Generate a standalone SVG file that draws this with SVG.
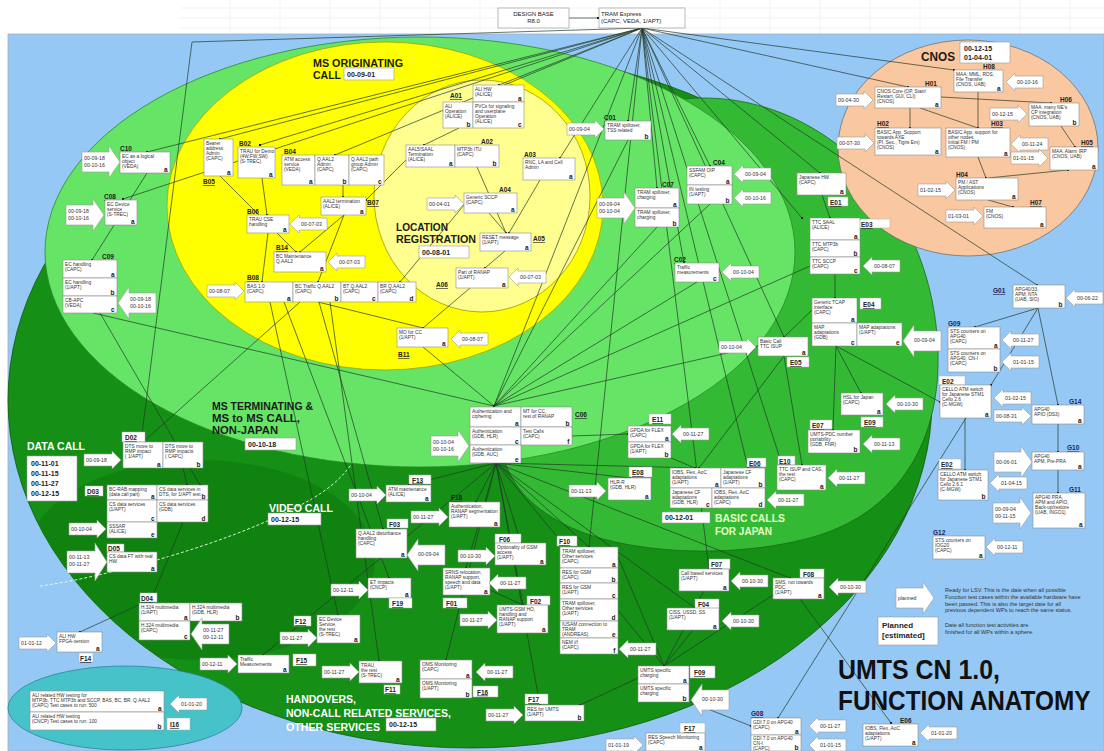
<svg xmlns="http://www.w3.org/2000/svg" xmlns:xlink="http://www.w3.org/1999/xlink" width="1104" height="751" viewBox="0 0 1104 751">
<style>
text{font-family:'Liberation Sans',Arial,sans-serif}
.bx{fill:#fff;stroke:#8a8a8a;stroke-width:0.6}
.lbx{fill:#fff;stroke:#aaa;stroke-width:0.5}
.t{font-size:4.8px;fill:#333}
.k{font-size:6.5px;font-weight:bold;fill:#222;text-anchor:end}
.id{font-size:6.5px;font-weight:bold;fill:#222;text-decoration:underline}
.gid{font-size:6.5px;font-weight:bold;fill:#1a2456;text-decoration:underline}
.d{font-size:5.2px;fill:#333}
.ar{fill:#fff;stroke:#9a9a9a;stroke-width:0.6}
.cn{fill:none;stroke:#223a2a;stroke-width:0.7;marker-end:url(#dot)}
.rl{font-size:11.5px;font-weight:bold;fill:#1a1a1a}
.wl{font-size:11.5px;font-weight:bold;fill:#fff}
.db{fill:#fff;stroke:#999;stroke-width:0.6}
.dt{font-size:7px;font-weight:bold;fill:#222}
.grid{stroke:#ebebeb;stroke-width:0.6}
</style>
<defs>
<marker id="dot" viewBox="0 0 4 4" refX="2" refY="2" markerWidth="2.6" markerHeight="2.6" markerUnits="userSpaceOnUse"><circle cx="2" cy="2" r="2" fill="#111"/></marker>
<clipPath id="bigclip"><ellipse cx="470" cy="400" rx="462" ry="348"/></clipPath>
<path id="ar" class="ar" d="M0,0h28v-3l9,9l-9,9v-3h-28z"/>
<path id="al" class="ar" d="M37,0h-28v-3l-9,9l9,9v-3h28z"/>
<path id="ar2" class="ar" d="M0,0h27v-6l11,16l-11,16v-6h-27z"/>
<path id="al2" class="ar" d="M38,0h-27v-6l-11,16l11,16v-6h27z"/>
<path id="ar3" class="ar" d="M0,0h28v-8l12,19l-12,19v-8h-28z"/>
</defs>

<rect x="0" y="0" width="1104" height="751" fill="#fff"/>
<g id="grid">
<line class="grid" x1="180" y1="8" x2="1104" y2="8"/><line class="grid" x1="180" y1="18" x2="1104" y2="18"/><line class="grid" x1="180" y1="28" x2="1104" y2="28"/>
<line class="grid" x1="230" y1="0" x2="230" y2="34"/><line class="grid" x1="280" y1="0" x2="280" y2="34"/><line class="grid" x1="330" y1="0" x2="330" y2="34"/><line class="grid" x1="380" y1="0" x2="380" y2="34"/><line class="grid" x1="430" y1="0" x2="430" y2="34"/><line class="grid" x1="480" y1="0" x2="480" y2="34"/><line class="grid" x1="720" y1="0" x2="720" y2="34"/><line class="grid" x1="770" y1="0" x2="770" y2="34"/><line class="grid" x1="820" y1="0" x2="820" y2="34"/><line class="grid" x1="870" y1="0" x2="870" y2="34"/><line class="grid" x1="920" y1="0" x2="920" y2="34"/><line class="grid" x1="970" y1="0" x2="970" y2="34"/><line class="grid" x1="1020" y1="0" x2="1020" y2="34"/><line class="grid" x1="1070" y1="0" x2="1070" y2="34"/>
</g>
<rect x="8" y="34" width="1096" height="717" fill="#96c8f5" stroke="#aab" stroke-width="0.8"/>

<g id="spheres">
<ellipse cx="470" cy="400" rx="462" ry="348" fill="#168f16" stroke="#0b5a0b" stroke-width="0.8"/>
<ellipse cx="200" cy="560" rx="175" ry="100" fill="#108210" clip-path="url(#bigclip)"/>
<path d="M560,300 C560,160 620,100 700,98 C800,96 905,170 932,300 C952,400 925,500 820,535 C740,560 620,556 560,522 C520,500 500,470 500,430 Z" fill="#34b934" stroke="#1a6a1a" stroke-width="0.8"/>
<path d="M40,586 C100,578 230,545 310,500 C380,460 380,400 300,380" fill="none" stroke="#e8ffe8" stroke-width="0.9" stroke-dasharray="3,2"/>
<ellipse cx="420" cy="252" rx="375" ry="215" fill="#66e466" stroke="#2a8a2a" stroke-width="0.8"/>
<ellipse cx="385" cy="206" rx="218" ry="164" fill="#ffff00" stroke="#a09a00" stroke-width="0.7"/>
<ellipse cx="482" cy="196" rx="108" ry="116" fill="#ffff90" stroke="#7a7000" stroke-width="0.6"/>
<ellipse cx="968" cy="148" rx="130" ry="108" fill="#fac8a0" stroke="#666" stroke-width="0.7"/>
<ellipse cx="125" cy="708" rx="117" ry="42" fill="#46c3c8" stroke="#2a7a8a" stroke-width="0.7"/>
</g>

<g id="connectors">
<path class="cn" d="M569,18 L598,18"/>
<path class="cn" d="M642,28 L147,152"/>
<path class="cn" d="M642,28 L220,139"/>
<path class="cn" d="M642,28 L260,145"/>
<path class="cn" d="M642,28 L335,155"/>
<path class="cn" d="M642,28 L499,85"/>
<path class="cn" d="M642,28 L560,158"/>
<path class="cn" d="M642,28 L628,121"/>
<path class="cn" d="M642,28 L657,188"/>
<path class="cn" d="M642,28 L710,166"/>
<path class="cn" d="M642,28 L820,173"/>
<path class="cn" d="M642,28 L908,87"/>
<path class="cn" d="M642,28 L954,70"/>
<path class="cn" d="M642,28 L1037,285"/>
<path class="cn" d="M642,28 L684,263"/>
<path class="cn" d="M642,28 L494,406"/>
<path class="cn" d="M642,28 L802,218"/>
<path class="cn" d="M642,28 L709,569"/>
<path class="cn" d="M642,28 L748,468"/>
<path class="cn" d="M642,28 L782,465"/>
<path class="cn" d="M642,28 L589,547"/>
<path class="cn" d="M642,28 L123,199"/>
<path class="cn" d="M642,28 L784,337"/>
<path class="cn" d="M642,28 L192,42 L141,442"/>
<path class="cn" d="M459,128 L424,145"/>
<path class="cn" d="M477,167 L506,233"/>
<path class="cn" d="M489,213 L506,233"/>
<path class="cn" d="M540,180 L509,233"/>
<path class="cn" d="M505,251 L485,268"/>
<path class="cn" d="M470,288 L423,328"/>
<path class="cn" d="M406,160 L366,200"/>
<path class="cn" d="M464,205 L400,282"/>
<path class="cn" d="M343,185 L343,197"/>
<path class="cn" d="M262,178 L267,215"/>
<path class="cn" d="M220,176 L296,252"/>
<path class="cn" d="M268,233 L262,282"/>
<path class="cn" d="M344,215 L300,252"/>
<path class="cn" d="M344,215 L318,282"/>
<path class="cn" d="M318,302 L423,328"/>
<path class="cn" d="M284,302 L389,578"/>
<path class="cn" d="M319,302 L383,529"/>
<path class="cn" d="M270,302 L338,615"/>
<path class="cn" d="M330,302 L379,661"/>
<path class="cn" d="M300,302 L143,442"/>
<path class="cn" d="M423,347 L494,406"/>
<path class="cn" d="M93,313 L494,406"/>
<path class="cn" d="M100,313 L200,485"/>
<path class="cn" d="M147,173 L92,260"/>
<path class="cn" d="M657,227 L494,406"/>
<path class="cn" d="M710,204 L494,406"/>
<path class="cn" d="M628,140 L494,406"/>
<path class="cn" d="M697,282 L494,406"/>
<path class="cn" d="M758,346 L494,406"/>
<path class="cn" d="M810,266 L494,406"/>
<path class="cn" d="M572,436 L628,434"/>
<path class="cn" d="M496,463 L476,502"/>
<path class="cn" d="M496,463 L521,543"/>
<path class="cn" d="M496,463 L466,568"/>
<path class="cn" d="M496,463 L523,605"/>
<path class="cn" d="M496,463 L589,547"/>
<path class="cn" d="M496,463 L790,578"/>
<path class="cn" d="M496,463 L695,608"/>
<path class="cn" d="M496,463 L664,666"/>
<path class="cn" d="M496,463 L630,478"/>
<path class="cn" d="M496,463 L446,660"/>
<path class="cn" d="M496,463 L540,705"/>
<path class="cn" d="M496,463 L409,485"/>
<path class="cn" d="M496,463 L699,468"/>
<path class="cn" d="M496,463 L263,655"/>
<path class="cn" d="M671,458 L695,468"/>
<path class="cn" d="M822,195 L830,218"/>
<path class="cn" d="M835,274 L835,298"/>
<path class="cn" d="M812,310 L784,337"/>
<path class="cn" d="M836,346 L861,393"/>
<path class="cn" d="M836,346 L833,430"/>
<path class="cn" d="M836,346 L940,402"/>
<path class="cn" d="M784,356 L802,465"/>
<path class="cn" d="M784,356 L699,468"/>
<path class="cn" d="M1038,308 L975,327"/>
<path class="cn" d="M1038,308 L991,385"/>
<path class="cn" d="M1038,308 L1058,405"/>
<path class="cn" d="M1058,424 L1058,452"/>
<path class="cn" d="M1058,470 L1058,493"/>
<path class="cn" d="M965,418 L965,470"/>
<path class="cn" d="M966,418 L778,718"/>
<path class="cn" d="M800,599 L891,723"/>
<path class="cn" d="M690,702 L751,726"/>
<path class="cn" d="M183,468 L187,485"/>
<path class="cn" d="M183,522 L150,603"/>
<path class="cn" d="M143,603 L80,632"/>
<path class="cn" d="M490,590 L523,605"/>
<path class="cn" d="M618,557 L664,666"/>
<path class="cn" d="M704,591 L664,666"/>
<path class="cn" d="M693,630 L664,666"/>
<path class="cn" d="M773,595 L664,666"/>
<path class="cn" d="M664,666 L580,705"/>
<path class="cn" d="M910,108 L910,128"/>
<path class="cn" d="M920,108 L978,128"/>
<path class="cn" d="M978,92 L978,128"/>
<path class="cn" d="M941,97 L1051,103"/>
<path class="cn" d="M1061,126 L1075,147"/>
<path class="cn" d="M978,157 L986,178"/>
<path class="cn" d="M988,178 L1068,170"/>
<path class="cn" d="M988,200 L1013,207"/>
</g>

<g id="top">
<rect class="bx" x="498" y="8" width="71" height="20"/>
<text x="533.5" y="16" font-size="6" fill="#222" text-anchor="middle">DESIGN BASE<tspan x="533.5" dy="7">R8.0</tspan></text>
<rect class="bx" x="599" y="8" width="86" height="20"/>
<text x="601" y="16" font-size="6" fill="#222">TRAM Express<tspan x="601" dy="7">(CAPC, VEDA, 1/APT)</tspan></text>
</g>

<g id="labels">
<text class="rl" x="313" y="67" textLength="90" lengthAdjust="spacingAndGlyphs">MS ORIGINATING</text>
<text class="rl" x="313" y="79" textLength="28" lengthAdjust="spacingAndGlyphs">CALL</text>
<rect class="db" x="344" y="68" width="50" height="12"/><text class="dt" x="347" y="76.5">00-09-01</text>
<text class="rl" x="396" y="231" textLength="52" lengthAdjust="spacingAndGlyphs">LOCATION</text>
<text class="rl" x="396" y="243" textLength="80" lengthAdjust="spacingAndGlyphs">REGISTRATION</text>
<rect class="db" x="419" y="246" width="50" height="12"/><text class="dt" x="422" y="254.5">00-08-01</text>
<text class="rl" x="212" y="410" textLength="101" lengthAdjust="spacingAndGlyphs">MS TERMINATING &amp;</text>
<text class="rl" x="212" y="422" textLength="88" lengthAdjust="spacingAndGlyphs">MS to MS CALL,</text>
<text class="rl" x="212" y="434" textLength="66" lengthAdjust="spacingAndGlyphs">NON-JAPAN</text>
<rect class="db" x="245" y="438" width="51" height="12"/><text class="dt" x="248" y="446.5">00-10-18</text>
<text class="wl" x="27" y="450" textLength="58" lengthAdjust="spacingAndGlyphs">DATA CALL</text>
<rect class="db" x="27" y="456" width="50" height="45"/>
<text class="dt" x="31" y="466">00-11-01<tspan x="31" dy="10">00-11-15</tspan><tspan x="31" dy="10">00-11-27</tspan><tspan x="31" dy="10">00-12-15</tspan></text>
<text class="wl" x="269" y="512" textLength="64" lengthAdjust="spacingAndGlyphs">VIDEO CALL</text>
<rect class="db" x="268" y="513" width="53" height="12"/><text class="dt" x="271" y="521.5">00-12-15</text>
<text class="wl" x="286" y="703" textLength="70" lengthAdjust="spacingAndGlyphs">HANDOVERS,</text>
<text class="wl" x="286" y="717" textLength="165" lengthAdjust="spacingAndGlyphs">NON-CALL RELATED SERVICES,</text>
<text class="wl" x="286" y="731" textLength="94" lengthAdjust="spacingAndGlyphs">OTHER SERVICES</text>
<rect class="db" x="386" y="718" width="50" height="13"/><text class="dt" x="389" y="727">00-12-15</text>
<text x="715" y="522" font-size="11.5" font-weight="bold" fill="#e6ffc8" textLength="70" lengthAdjust="spacingAndGlyphs">BASIC CALLS</text>
<text x="715" y="535" font-size="11.5" font-weight="bold" fill="#e6ffc8" textLength="57" lengthAdjust="spacingAndGlyphs">FOR JAPAN</text>
<rect class="db" x="662" y="512" width="48" height="11"/><text class="dt" x="665" y="520">00-12-01</text>
<text x="921" y="61" font-size="13" font-weight="bold" fill="#1a1a1a" textLength="34" lengthAdjust="spacingAndGlyphs">CNOS</text>
<rect class="db" x="960" y="42" width="50" height="21"/>
<text class="dt" x="964" y="51">00-12-15<tspan x="964" dy="9">01-04-01</tspan></text>
</g>

<g id="A01">
<text class="id" x="450" y="98">A01</text>
<rect class="bx" x="473" y="85" width="51" height="17"/><text class="t" x="475" y="90.5">ALI HW<tspan x="475" dy="5.3">(ALICE)</tspan></text><text class="k" x="521.5" y="100.5">a</text>
<rect class="bx" x="443" y="102" width="30" height="26"/><text class="t" x="445" y="107.5">ALI<tspan x="445" dy="5.3">Operation</tspan><tspan x="445" dy="5.3">(ALICE)</tspan></text><text class="k" x="470.5" y="126.5">b</text>
<rect class="bx" x="473" y="102" width="51" height="26"/><text class="t" x="475" y="107.5">PVCs for signaling<tspan x="475" dy="5.3">and userplane</tspan><tspan x="475" dy="5.3">Operation</tspan><tspan x="475" dy="5.3">(ALICE)</tspan></text><text class="k" x="521.5" y="126.5">c</text>
</g>
<g id="A02">
<text class="id" x="481" y="144">A02</text>
<rect class="bx" x="406" y="145" width="49" height="22"/><text class="t" x="408" y="150.5">AAL5/SAAL<tspan x="408" dy="5.3">Termination</tspan><tspan x="408" dy="5.3">(ALICE)</tspan></text><text class="k" x="452.5" y="165.5">a</text>
<rect class="bx" x="455" y="145" width="44" height="22"/><text class="t" x="457" y="150.5">MTP3b ITU<tspan x="457" dy="5.3">(CAPC)</tspan></text><text class="k" x="496.5" y="165.5">b</text>
</g>
<g id="A03">
<text class="id" x="524" y="157">A03</text>
<rect class="bx" x="523" y="158" width="52" height="22"/><text class="t" x="525" y="163.5">RNC, LA and Cell<tspan x="525" dy="5.3">Admin</tspan></text><text class="k" x="572.5" y="178.5">a</text>
</g>
<g id="A04">
<text class="id" x="499" y="192">A04</text>
<rect class="bx" x="464" y="193" width="53" height="20"/><text class="t" x="466" y="198.5">Generic SCCP<tspan x="466" dy="5.3">(CAPC)</tspan></text><text class="k" x="514.5" y="211.5">a</text>
<use href="#ar" x="427" y="198"/><text class="d" x="429" y="206">00-04-01</text>
</g>
<g id="A05">
<text class="id" x="533" y="241">A05</text>
<rect class="bx" x="480" y="233" width="51" height="18"/><text class="t" x="482" y="238.5">RESET message<tspan x="482" dy="5.3">(1/APT)</tspan></text><text class="k" x="528.5" y="249.5">a</text>
</g>
<g id="A06">
<text class="id" x="436" y="287">A06</text>
<rect class="bx" x="456" y="268" width="52" height="20"/><text class="t" x="458" y="273.5">Part of RANAP<tspan x="458" dy="5.3">(1/APT)</tspan></text><text class="k" x="505.5" y="286.5">a</text>
<use href="#al" x="509" y="271"/><text class="d" x="520" y="279">00-07-03</text>
</g>

<g id="B05">
<rect class="bx" x="204" y="139" width="29" height="37"/><text class="t" x="206" y="144.5">Bearer<tspan x="206" dy="5.3">address</tspan><tspan x="206" dy="5.3">Admin</tspan><tspan x="206" dy="5.3">(CAPC)</tspan></text><text class="k" x="230.5" y="174.5">a</text>
<text class="id" x="203" y="184">B05</text>
</g>
<g id="B02">
<text class="id" x="239" y="146">B02</text>
<rect class="bx" x="238" y="147" width="37" height="31"/><text class="t" x="240" y="152.5">TRAU for Demo<tspan x="240" dy="5.3">(4W,FW,SW)</tspan><tspan x="240" dy="5.3">(S-TREC)</tspan></text><text class="k" x="272.5" y="176.5">a</text>
</g>
<g id="B04">
<text class="id" x="284" y="154">B04</text>
<rect class="bx" x="282" y="155" width="33" height="30"/><text class="t" x="284" y="160.5">ATM access<tspan x="284" dy="5.3">service</tspan><tspan x="284" dy="5.3">(VEDA)</tspan></text><text class="k" x="312.5" y="183.5">a</text>
<rect class="bx" x="315" y="155" width="34" height="30"/><text class="t" x="317" y="160.5">Q.AAL2<tspan x="317" dy="5.3">Admin</tspan><tspan x="317" dy="5.3">(CAPC)</tspan></text><text class="k" x="346.5" y="183.5">b</text>
<rect class="bx" x="349" y="155" width="35" height="30"/><text class="t" x="351" y="160.5">Q.AAL2 path<tspan x="351" dy="5.3">group Admin</tspan><tspan x="351" dy="5.3">(CAPC)</tspan></text><text class="k" x="381.5" y="183.5">c</text>
</g>
<g id="B07">
<rect class="bx" x="321" y="197" width="45" height="18"/><text class="t" x="323" y="202.5">AAL2 termination<tspan x="323" dy="5.3">(ALICE)</tspan></text><text class="k" x="363.5" y="213.5">a</text>
<text class="id" x="367" y="205">B07</text>
</g>
<g id="B06">
<text class="id" x="247" y="214">B06</text>
<rect class="bx" x="247" y="215" width="42" height="18"/><text class="t" x="249" y="220.5">TRAU CSE<tspan x="249" dy="5.3">handling</tspan></text><text class="k" x="286.5" y="231.5">a</text>
<use href="#al" x="290" y="218"/><text class="d" x="301" y="226">00-07-03</text>
</g>
<g id="B14">
<text class="id" x="276" y="250">B14</text>
<rect class="bx" x="274" y="252" width="52" height="20"/><text class="t" x="276" y="257.5">BC Maintenance<tspan x="276" dy="5.3">Q.AAL2</tspan></text><text class="k" x="323.5" y="270.5">a</text>
<use href="#al" x="328" y="256"/><text class="d" x="339" y="264">00-07-03</text>
</g>
<g id="B08">
<text class="id" x="247" y="280">B08</text>
<rect class="bx" x="245" y="282" width="48" height="20"/><text class="t" x="247" y="287.5">BAS 1.0<tspan x="247" dy="5.3">(CAPC)</tspan></text><text class="k" x="290.5" y="300.5">a</text>
<rect class="bx" x="293" y="282" width="48" height="20"/><text class="t" x="295" y="287.5">BC Traffic  Q.AAL2<tspan x="295" dy="5.3">(CAPC)</tspan></text><text class="k" x="338.5" y="300.5">b</text>
<rect class="bx" x="341" y="282" width="37" height="20"/><text class="t" x="343" y="287.5">BT Q.AAL2<tspan x="343" dy="5.3">(CAPC)</tspan></text><text class="k" x="375.5" y="300.5">c</text>
<rect class="bx" x="378" y="282" width="38" height="20"/><text class="t" x="380" y="287.5">BR Q.AAL2<tspan x="380" dy="5.3">(CAPC)</tspan></text><text class="k" x="413.5" y="300.5">d</text>
<use href="#ar" x="207" y="285"/><text class="d" x="209" y="293">00-08-07</text>
</g>
<g id="B11">
<rect class="bx" x="397" y="328" width="51" height="19"/><text class="t" x="399" y="333.5">MO for CC<tspan x="399" dy="5.3">(1/APT)</tspan></text><text class="k" x="445.5" y="345.5">a</text>
<text class="id" x="398" y="357">B11</text>
<use href="#al" x="451" y="333"/><text class="d" x="462" y="341">00-08-07</text>
</g>

<g id="C10">
<text class="id" x="120" y="151">C10</text>
<rect class="bx" x="120" y="152" width="50" height="21"/><text class="t" x="122" y="157.5">EC as a logical<tspan x="122" dy="5.3">object</tspan><tspan x="122" dy="5.3">(VEDA)</tspan></text><text class="k" x="167.5" y="171.5">a</text>
<use href="#ar2" x="82" y="152"/><text class="d" x="84" y="160">00-09-18<tspan x="84" dy="6.5">00-10-16</tspan></text>
</g>
<g id="C08">
<text class="id" x="104" y="199">C08</text>
<rect class="bx" x="105" y="200" width="32" height="25"/><text class="t" x="107" y="205.5">EC Device<tspan x="107" dy="5.3">service</tspan><tspan x="107" dy="5.3">(S-TREC)</tspan></text><text class="k" x="134.5" y="223.5">a</text>
<use href="#ar2" x="66" y="205"/><text class="d" x="68" y="213">00-09-18<tspan x="68" dy="6.5">00-10-16</tspan></text>
</g>
<g id="C09">
<text class="id" x="102" y="259">C09</text>
<rect class="bx" x="63" y="260" width="54" height="18"/><text class="t" x="65" y="265.5">EC handling<tspan x="65" dy="5.3">(CAPC)</tspan></text><text class="k" x="114.5" y="276.5">a</text>
<rect class="bx" x="63" y="278" width="54" height="18"/><text class="t" x="65" y="283.5">EC handling<tspan x="65" dy="5.3">(1/APT)</tspan></text><text class="k" x="114.5" y="294.5">b</text>
<rect class="bx" x="63" y="296" width="54" height="17"/><text class="t" x="65" y="301.5">CB-APC<tspan x="65" dy="5.3">(VEDA)</tspan></text><text class="k" x="114.5" y="311.5">c</text>
<use href="#al2" x="118" y="293"/><text class="d" x="130" y="301">00-09-18<tspan x="130" dy="6.5">00-10-16</tspan></text>
</g>
<g id="C01">
<text class="id" x="604" y="120">C01</text>
<rect class="bx" x="605" y="121" width="46" height="19"/><text class="t" x="607" y="126.5">TRAM spillover,<tspan x="607" dy="5.3">TSS related</tspan></text><text class="k" x="648.5" y="138.5">b</text>
<use href="#ar" x="567" y="123"/><text class="d" x="569" y="131">00-09-04</text>
</g>
<g id="C04">
<text class="id" x="713" y="165">C04</text>
<rect class="bx" x="687" y="166" width="45" height="19"/><text class="t" x="689" y="171.5">SSFAM OIP<tspan x="689" dy="5.3">(CAPC)</tspan></text><text class="k" x="729.5" y="183.5">a</text>
<rect class="bx" x="687" y="185" width="45" height="19"/><text class="t" x="689" y="190.5">IN testing<tspan x="689" dy="5.3">(1/APT)</tspan></text><text class="k" x="729.5" y="202.5">b</text>
<use href="#al" x="734" y="168"/><text class="d" x="745" y="176">00-09-04</text>
<use href="#al" x="734" y="192"/><text class="d" x="745" y="200">00-10-16</text>
</g>
<g id="C07">
<text class="id" x="662" y="187">C07</text>
<rect class="bx" x="635" y="188" width="44" height="20"/><text class="t" x="637" y="193.5">TRAM spillover,<tspan x="637" dy="5.3">charging</tspan></text><text class="k" x="676.5" y="206.5">a</text>
<rect class="bx" x="635" y="208" width="44" height="19"/><text class="t" x="637" y="213.5">TRAM spillover,<tspan x="637" dy="5.3">charging</tspan></text><text class="k" x="676.5" y="225.5">b</text>
<use href="#ar2" x="597" y="198"/><text class="d" x="599" y="206">00-09-04<tspan x="599" dy="6.5">00-10-04</tspan></text>
</g>
<g id="C02">
<text class="id" x="674" y="262">C02</text>
<rect class="bx" x="675" y="263" width="44" height="19"/><text class="t" x="677" y="268.5">Traffic<tspan x="677" dy="5.3">measurements</tspan></text><text class="k" x="716.5" y="280.5">c</text>
<use href="#al" x="722" y="266"/><text class="d" x="733" y="274">00-10-04</text>
</g>
<g id="C06">
<rect class="bx" x="470" y="407" width="51" height="20"/><text class="t" x="472" y="412.5">Authentication and<tspan x="472" dy="5.3">ciphering</tspan></text><text class="k" x="518.5" y="425.5">a</text>
<rect class="bx" x="470" y="427" width="51" height="18"/><text class="t" x="472" y="432.5">Authentication<tspan x="472" dy="5.3">(GDB, HLR)</tspan></text><text class="k" x="518.5" y="443.5">c</text>
<rect class="bx" x="470" y="445" width="51" height="18"/><text class="t" x="472" y="450.5">Authentication<tspan x="472" dy="5.3">(GDB, AUC)</tspan></text><text class="k" x="518.5" y="461.5">e</text>
<rect class="bx" x="521" y="407" width="51" height="20"/><text class="t" x="523" y="412.5">MT for CC,<tspan x="523" dy="5.3">rest of RANAP</tspan></text><text class="k" x="569.5" y="425.5">b</text>
<rect class="bx" x="521" y="427" width="51" height="18"/><text class="t" x="523" y="432.5">Test Calls<tspan x="523" dy="5.3">(CAPC)</tspan></text><text class="k" x="569.5" y="443.5">f</text>
<text class="id" x="575" y="417">C06</text>
<use href="#ar2" x="431" y="436"/><text class="d" x="433" y="444">00-10-04<tspan x="433" dy="6.5">00-10-16</tspan></text>
</g>

<g id="D02">
<rect class="lbx" x="122" y="432" width="23" height="10"/><text class="id" x="125" y="440">D02</text>
<rect class="bx" x="123" y="442" width="40" height="26"/><text class="t" x="125" y="447.5">DTS move to<tspan x="125" dy="5.3">RMP impact</tspan><tspan x="125" dy="5.3">( 1/APT)</tspan></text><text class="k" x="160.5" y="466.5">a</text>
<rect class="bx" x="163" y="442" width="40" height="26"/><text class="t" x="165" y="447.5">DTS move to<tspan x="165" dy="5.3">RMP impacts</tspan><tspan x="165" dy="5.3">( CAPC)</tspan></text><text class="k" x="200.5" y="466.5">b</text>
<use href="#ar" x="84" y="454"/><text class="d" x="86" y="462">00-09-18</text>
</g>
<g id="D03">
<rect class="lbx" x="85" y="486" width="18" height="10"/><text class="id" x="87" y="494">D03</text>
<rect class="bx" x="107" y="485" width="50" height="15"/><text class="t" x="109" y="490.5">BC-RAB mapping<tspan x="109" dy="5.3">(data call part)</tspan></text><text class="k" x="154.5" y="498.8">a</text>
<rect class="bx" x="157" y="485" width="51" height="15"/><text class="t" x="159" y="490.5">CS data services in<tspan x="159" dy="5.3">DTS, for 1/APT test</tspan></text><text class="k" x="205.5" y="498.8">b</text>
<rect class="bx" x="107" y="500" width="50" height="22"/><text class="t" x="109" y="505.5">CS data services<tspan x="109" dy="5.3">(1/APT)</tspan></text><text class="k" x="154.5" y="520.5">c</text>
<rect class="bx" x="157" y="500" width="51" height="22"/><text class="t" x="159" y="505.5">CS data services<tspan x="159" dy="5.3">(GDB)</tspan></text><text class="k" x="205.5" y="520.5">d</text>
<rect class="bx" x="107" y="522" width="50" height="16"/><text class="t" x="109" y="527.5">SSSAR<tspan x="109" dy="5.3">(ALICE)</tspan></text><text class="k" x="154.5" y="536.5">e</text>
<use href="#ar" x="69" y="523"/><text class="d" x="71" y="531">00-10-04</text>
</g>
<g id="D05">
<rect class="lbx" x="107" y="544" width="17" height="8"/><text class="id" x="108" y="551">D05</text>
<rect class="bx" x="107" y="552" width="50" height="20"/><text class="t" x="109" y="557.5">CS data FT with real<tspan x="109" dy="5.3">HW</tspan></text><text class="k" x="154.5" y="570.5">a</text>
<use href="#ar3" x="67" y="551"/><text class="d" x="69" y="559">00-11-13<tspan x="69" dy="6.5">00-11-27</tspan></text>
</g>
<g id="D04">
<rect class="lbx" x="140" y="593" width="17" height="9"/><text class="id" x="141" y="601">D04</text>
<rect class="bx" x="139" y="603" width="51" height="18"/><text class="t" x="141" y="608.5">H.324 multimedia<tspan x="141" dy="5.3">(1/APT)</tspan></text><text class="k" x="187.5" y="619.5">a</text>
<rect class="bx" x="190" y="603" width="52" height="18"/><text class="t" x="192" y="608.5">H.324 multimedia<tspan x="192" dy="5.3">(GDB, HLR)</tspan></text><text class="k" x="239.5" y="619.5">b</text>
<rect class="bx" x="139" y="621" width="51" height="19"/><text class="t" x="141" y="626.5">H.324 multimedia<tspan x="141" dy="5.3">(CAPC)</tspan></text><text class="k" x="187.5" y="638.5">c</text>
<use href="#al2" x="191" y="624"/><text class="d" x="203" y="632">00-11-27<tspan x="203" dy="6.5">00-12-11</tspan></text>
</g>
<g id="F14">
<rect class="bx" x="57" y="632" width="45" height="20"/><text class="t" x="59" y="637.5">ALI HW<tspan x="59" dy="5.3">FPGA-version</tspan></text><text class="k" x="99.5" y="650.5">a</text>
<rect class="lbx" x="79" y="653" width="14" height="9"/><text class="id" x="80" y="661">F14</text>
<use href="#ar" x="19" y="637"/><text class="d" x="21" y="645">01-01-12</text>
</g>
<g id="I16">
<rect class="bx" x="30" y="691" width="134" height="21"/><text class="t" x="32" y="696.5">ALI related HW testing for<tspan x="32" dy="5.3">MTP3b, TTC MTP3b and SCCP, BAS, BC, BR, Q.AAL2</tspan><tspan x="32" dy="5.3">(CAPC) Test cases to run: 500</tspan></text><text class="k" x="161.5" y="710.5">a</text>
<rect class="bx" x="30" y="712" width="134" height="18"/><text class="t" x="32" y="717.5">ALI related HW testing<tspan x="32" dy="5.3">(CNCP) Test cases to run: 100</tspan></text><text class="k" x="161.5" y="728.5">b</text>
<rect class="lbx" x="167" y="718" width="23" height="12"/><text class="id" x="170" y="727">I16</text>
<use href="#al" x="170" y="698"/><text class="d" x="181" y="706">01-01-20</text>
</g>
<g id="F15">
<rect class="bx" x="238" y="655" width="51" height="18"/><text class="t" x="240" y="660.5">Traffic<tspan x="240" dy="5.3">Measurements</tspan></text><text class="k" x="286.5" y="671.5">a</text>
<rect class="lbx" x="293" y="654" width="23" height="12"/><text class="id" x="296" y="663">F15</text>
<use href="#ar" x="200" y="658"/><text class="d" x="202" y="666">00-12-11</text>
</g>

<g id="F13">
<rect class="lbx" x="409" y="475" width="22" height="9"/><text class="id" x="412" y="482.5">F13</text>
<rect class="bx" x="386" y="485" width="45" height="17"/><text class="t" x="388" y="490.5">ATM maintenance<tspan x="388" dy="5.3">(ALICE)</tspan></text><text class="k" x="428.5" y="500.5">a</text>
<use href="#ar" x="349" y="489"/><text class="d" x="351" y="497">00-10-04</text>
</g>
<g id="F18">
<text class="id" x="451" y="500">F18</text>
<rect class="bx" x="449" y="502" width="51" height="25"/><text class="t" x="451" y="507.5">Authentication,<tspan x="451" dy="5.3">RANAP segmentation</tspan><tspan x="451" dy="5.3">(1/APT)</tspan></text><text class="k" x="497.5" y="525.5">a</text>
<use href="#ar" x="411" y="511"/><text class="d" x="413" y="519">00-11-27</text>
</g>
<g id="F03">
<rect class="lbx" x="387" y="519" width="21" height="9"/><text class="id" x="389" y="527">F03</text>
<rect class="bx" x="356" y="529" width="51" height="29"/><text class="t" x="358" y="534.5">Q.AAL2 disturbance<tspan x="358" dy="5.3">handling</tspan><tspan x="358" dy="5.3">(CAPC)</tspan></text><text class="k" x="404.5" y="556.5">a</text>
<use href="#al2" x="407" y="545"/><text class="d" x="418" y="556">00-09-04</text>
</g>
<g id="F06">
<rect class="lbx" x="495" y="534" width="26" height="9"/><text class="id" x="499" y="542">F06</text>
<rect class="bx" x="495" y="543" width="51" height="22"/><text class="t" x="497" y="548.5">Optionality of GSM<tspan x="497" dy="5.3">access</tspan><tspan x="497" dy="5.3">(1/APT)</tspan></text><text class="k" x="543.5" y="563.5">a</text>
<use href="#ar" x="458" y="550"/><text class="d" x="460" y="558">00-10-30</text>
</g>
<g id="F19">
<rect class="bx" x="368" y="578" width="43" height="20"/><text class="t" x="370" y="583.5">ET impacts<tspan x="370" dy="5.3">(CNCP)</tspan></text><text class="k" x="408.5" y="596.5">a</text>
<rect class="lbx" x="389" y="598" width="23" height="10"/><text class="id" x="392" y="606">F19</text>
<use href="#ar" x="331" y="584"/><text class="d" x="333" y="592">00-12-11</text>
</g>
<g id="F01">
<rect class="bx" x="443" y="568" width="47" height="27"/><text class="t" x="445" y="573.5">SRNS relocation,<tspan x="445" dy="5.3">RANAP support,</tspan><tspan x="445" dy="5.3">speech and data</tspan><tspan x="445" dy="5.3">(1/APT)</tspan></text><text class="k" x="487.5" y="593.5">a</text>
<rect class="lbx" x="443" y="598" width="24" height="10"/><text class="id" x="446" y="606">F01</text>
<use href="#al" x="489" y="577"/><text class="d" x="500" y="585">00-11-27</text>
</g>
<g id="F02">
<rect class="lbx" x="527" y="596" width="23" height="9"/><text class="id" x="530" y="604">F02</text>
<rect class="bx" x="497" y="605" width="51" height="28"/><text class="t" x="499" y="610.5">UMTS-GSM HO,<tspan x="499" dy="5.3">handling and</tspan><tspan x="499" dy="5.3">RANAP support</tspan><tspan x="499" dy="5.3">(1/APT)</tspan></text><text class="k" x="545.5" y="631.5">a</text>
<use href="#ar" x="460" y="614"/><text class="d" x="462" y="622">00-11-27</text>
</g>
<g id="F12">
<rect class="lbx" x="294" y="616" width="17" height="10"/><text class="id" x="295" y="624">F12</text>
<rect class="bx" x="317" y="615" width="43" height="28"/><text class="t" x="319" y="620.5">EC Device<tspan x="319" dy="5.3">Service,</tspan><tspan x="319" dy="5.3">the rest</tspan><tspan x="319" dy="5.3">(S-TREC)</tspan></text><text class="k" x="357.5" y="641.5">a</text>
<use href="#ar" x="280" y="632"/><text class="d" x="282" y="640">00-11-27</text>
</g>
<g id="F11">
<rect class="bx" x="359" y="661" width="43" height="22"/><text class="t" x="361" y="666.5">TRAU,<tspan x="361" dy="5.3">the rest</tspan><tspan x="361" dy="5.3">(S-TREC)</tspan></text><text class="k" x="399.5" y="681.5">a</text>
<rect class="lbx" x="384" y="685" width="16" height="9"/><text class="id" x="385" y="692">F11</text>
<use href="#ar" x="322" y="666"/><text class="d" x="324" y="674">00-11-27</text>
</g>
<g id="F16">
<rect class="bx" x="420" y="660" width="52" height="19"/><text class="t" x="422" y="665.5">OMS Monitoring<tspan x="422" dy="5.3">(CAPC)</tspan></text><text class="k" x="469.5" y="677.5">a</text>
<rect class="bx" x="420" y="679" width="52" height="19"/><text class="t" x="422" y="684.5">OMS Monitoring<tspan x="422" dy="5.3">(1/APT)</tspan></text><text class="k" x="469.5" y="696.5">b</text>
<rect class="lbx" x="473" y="686" width="25" height="11"/><text class="id" x="477" y="694.5">F16</text>
<use href="#al" x="476" y="666"/><text class="d" x="487" y="674">00-11-27</text>
</g>
<g id="F17">
<rect class="lbx" x="525" y="694" width="23" height="10"/><text class="id" x="528" y="702">F17</text>
<rect class="bx" x="525" y="705" width="59" height="16"/><text class="t" x="527" y="710.5">RES for UMTS<tspan x="527" dy="5.3">(1/APT)</tspan></text><text class="k" x="581.5" y="719.5">b</text>
<use href="#ar" x="486" y="709"/><text class="d" x="488" y="717">00-11-27</text>
</g>
<g id="F10">
<rect class="lbx" x="557" y="536" width="20" height="10"/><text class="id" x="559" y="544">F10</text>
<rect class="bx" x="560" y="547" width="58" height="21"/><text class="t" x="562" y="552.5">TRAM spillover,<tspan x="562" dy="5.3">Other services</tspan><tspan x="562" dy="5.3">(CAPC)</tspan></text><text class="k" x="615.5" y="566.5">a</text>
<rect class="bx" x="560" y="568" width="58" height="15"/><text class="t" x="562" y="573.5">RES for GSM<tspan x="562" dy="5.3">(CAPC)</tspan></text><text class="k" x="615.5" y="581.5">b</text>
<rect class="bx" x="560" y="583" width="58" height="16"/><text class="t" x="562" y="588.5">RES for GSM<tspan x="562" dy="5.3">(1/APT)</tspan></text><text class="k" x="615.5" y="597.5">c</text>
<rect class="bx" x="560" y="599" width="58" height="22"/><text class="t" x="562" y="604.5">TRAM spillover,<tspan x="562" dy="5.3">Other services</tspan><tspan x="562" dy="5.3">(1/APT)</tspan></text><text class="k" x="615.5" y="619.5">d</text>
<rect class="bx" x="560" y="621" width="58" height="17"/><text class="t" x="562" y="626">IUSAM connection to<tspan x="562" dy="5">TRAM</tspan><tspan x="562" dy="5">(ANDREAS)</tspan></text><text class="k" x="615.5" y="636.5">e</text>
<rect class="bx" x="560" y="638" width="58" height="16"/><text class="t" x="562" y="643.5">NEM i/f<tspan x="562" dy="5.3">(CAPC)</tspan></text><text class="k" x="615.5" y="652.5">f</text>
<use href="#al" x="619" y="643"/><text class="d" x="630" y="651">00-11-27</text>
</g>
<g id="F07">
<rect class="lbx" x="709" y="559" width="21" height="10"/><text class="id" x="711" y="567">F07</text>
<rect class="bx" x="679" y="569" width="50" height="22"/><text class="t" x="681" y="574.5">Call based services<tspan x="681" dy="5.3">(1/APT)</tspan></text><text class="k" x="726.5" y="589.5">a</text>
<use href="#al" x="731" y="575"/><text class="d" x="742" y="583">00-10-30</text>
</g>
<g id="F08">
<rect class="lbx" x="800" y="569" width="24" height="9"/><text class="id" x="803" y="577">F08</text>
<rect class="bx" x="773" y="578" width="51" height="21"/><text class="t" x="775" y="583.5">SMS, not towards<tspan x="775" dy="5.3">PDC</tspan><tspan x="775" dy="5.3">(1/APT)</tspan></text><text class="k" x="821.5" y="597.5">a</text>
<use href="#al" x="829" y="581"/><text class="d" x="840" y="589">00-10-30</text>
</g>
<g id="F04">
<rect class="lbx" x="695" y="599" width="24" height="10"/><text class="id" x="698" y="607">F04</text>
<rect class="bx" x="667" y="608" width="52" height="22"/><text class="t" x="669" y="613.5">CISS, USSD, SS<tspan x="669" dy="5.3">(1/APT)</tspan></text><text class="k" x="716.5" y="628.5">a</text>
<use href="#al" x="722" y="615"/><text class="d" x="733" y="623">00-10-30</text>
</g>
<g id="F09">
<rect class="bx" x="638" y="666" width="51" height="18"/><text class="t" x="640" y="671.5">UMTS specific<tspan x="640" dy="5.3">charging</tspan></text><text class="k" x="686.5" y="682.5">a</text>
<rect class="bx" x="638" y="684" width="51" height="18"/><text class="t" x="640" y="689.5">UMTS specific<tspan x="640" dy="5.3">charging</tspan></text><text class="k" x="686.5" y="700.5">b</text>
<rect class="lbx" x="690" y="666" width="25" height="12"/><text class="id" x="694" y="675">F09</text>
<use href="#al2" x="691" y="690"/><text class="d" x="702" y="701">00-10-30</text>
</g>
<g id="G08">
<text class="gid" x="751" y="716">G08</text>
<rect class="bx" x="751" y="718" width="50" height="17"/><text class="t" x="753" y="723.5">GDI 7.0 on APG40<tspan x="753" dy="5.3">(CAPC)</tspan></text><text class="k" x="798.5" y="733.5">a</text>
<rect class="bx" x="751" y="735" width="50" height="16"/><text class="t" x="753" y="740">GDI 7.0 on APG40<tspan x="753" dy="5">CN-I</tspan><tspan x="753" dy="5">(CAPC)</tspan></text><text class="k" x="798.5" y="749.5">b</text>
<use href="#al" x="809" y="720"/><text class="d" x="820" y="728">00-11-27</text>
<use href="#al" x="809" y="739"/><text class="d" x="820" y="747">01-01-15</text>
</g>
<g id="F17b">
<rect class="lbx" x="680" y="723" width="25" height="10"/><text class="id" x="684" y="731">F17</text>
<rect class="bx" x="646" y="733" width="59" height="18"/><text class="t" x="648" y="738.5">RES Speech Monitoring<tspan x="648" dy="5.3">(CAPC)</tspan></text><text class="k" x="702.5" y="749.5">a</text>
<use href="#ar" x="606" y="739"/><text class="d" x="608" y="747">01-01-19</text>
</g>

<g id="E05">
<rect class="bx" x="758" y="337" width="50" height="19"/><text class="t" x="760" y="342.5">Basic Call<tspan x="760" dy="5.3">TTC ISUP</tspan></text><text class="k" x="805.5" y="354.5">a</text>
<rect class="lbx" x="787" y="357" width="22" height="10"/><text class="id" x="790" y="365">E05</text>
<use href="#ar" x="719" y="341"/><text class="d" x="721" y="349">00-10-04</text>
</g>
<g id="E11">
<rect class="lbx" x="649" y="414" width="22" height="10"/><text class="id" x="652" y="422">E11</text>
<rect class="bx" x="628" y="426" width="43" height="16"/><text class="t" x="630" y="431.5">GPDA for FLEX<tspan x="630" dy="5.3">(CAPC)</tspan></text><text class="k" x="668.5" y="440.5">a</text>
<rect class="bx" x="628" y="442" width="43" height="16"/><text class="t" x="630" y="447.5">GPDA for FLEX<tspan x="630" dy="5.3">(1/APT)</tspan></text><text class="k" x="668.5" y="456.5">b</text>
<use href="#al" x="672" y="428"/><text class="d" x="683" y="436">00-11-27</text>
</g>
<g id="E08">
<rect class="lbx" x="629" y="467" width="23" height="10"/><text class="id" x="632" y="475">E08</text>
<rect class="bx" x="608" y="478" width="43" height="22"/><text class="t" x="610" y="483.5">HLR-R<tspan x="610" dy="5.3">(GDB, HLR)</tspan></text><text class="k" x="648.5" y="498.5">a</text>
<use href="#ar" x="569" y="485"/><text class="d" x="571" y="493">00-11-13</text>
</g>
<g id="E06">
<rect class="lbx" x="747" y="458" width="19" height="9"/><text class="id" x="749" y="465.5">E06</text>
<rect class="bx" x="670" y="468" width="51" height="20"/><text class="t" x="672" y="473.5">IOBS, Flex, AoC<tspan x="672" dy="5.3">adaptations</tspan><tspan x="672" dy="5.3">(1/APT)</tspan></text><text class="k" x="718.5" y="486.5">a</text>
<rect class="bx" x="721" y="468" width="44" height="20"/><text class="t" x="723" y="473.5">Japanese CF<tspan x="723" dy="5.3">adaptations</tspan><tspan x="723" dy="5.3">(1/APT)</tspan></text><text class="k" x="762.5" y="486.5">b</text>
<rect class="bx" x="670" y="488" width="42" height="20"/><text class="t" x="672" y="493.5">Japanese CF<tspan x="672" dy="5.3">adaptations</tspan><tspan x="672" dy="5.3">(GDB, HLR)</tspan></text><text class="k" x="709.5" y="506.5">c</text>
<rect class="bx" x="712" y="488" width="53" height="20"/><text class="t" x="714" y="493.5">IOBS, Flex, AoC<tspan x="714" dy="5.3">adaptations</tspan><tspan x="714" dy="5.3">(CAPC)</tspan></text><text class="k" x="762.5" y="506.5">d</text>
<use href="#al" x="767" y="494"/><text class="d" x="778" y="502">00-11-27</text>
</g>
<g id="E10">
<rect class="lbx" x="778" y="456" width="17" height="9"/><text class="id" x="779" y="463.5">E10</text>
<rect class="bx" x="777" y="465" width="49" height="25"/><text class="t" x="779" y="470.5">TTC ISUP and CAS,<tspan x="779" dy="5.3">the rest</tspan><tspan x="779" dy="5.3">(CAPC)</tspan></text><text class="k" x="823.5" y="488.5">a</text>
<use href="#al" x="828" y="472"/><text class="d" x="839" y="480">00-11-27</text>
</g>
<g id="E07">
<rect class="lbx" x="810" y="420" width="22" height="9"/><text class="id" x="812" y="428">E07</text>
<rect class="bx" x="808" y="430" width="52" height="23"/><text class="t" x="810" y="435.5">UMTS-PDC number<tspan x="810" dy="5.3">portability</tspan><tspan x="810" dy="5.3">(GDB, FNR)</tspan></text><text class="k" x="857.5" y="451.5">b</text>
<use href="#al" x="863" y="438"/><text class="d" x="874" y="446">00-11-13</text>
</g>
<g id="E09">
<rect class="bx" x="841" y="393" width="42" height="22"/><text class="t" x="843" y="398.5">HSL for Japan<tspan x="843" dy="5.3">(CAPC)</tspan></text><text class="k" x="880.5" y="413.5">a</text>
<rect class="lbx" x="861" y="417" width="22" height="10"/><text class="id" x="864" y="425">E09</text>
<use href="#al" x="886" y="398"/><text class="d" x="897" y="406">00-10-30</text>
</g>
<g id="E04">
<rect class="lbx" x="860" y="298" width="21" height="11"/><text class="id" x="863" y="307">E04</text>
<rect class="bx" x="812" y="298" width="45" height="25"/><text class="t" x="814" y="303.5">Generic TCAP<tspan x="814" dy="5.3">interface</tspan><tspan x="814" dy="5.3">(CAPC)</tspan></text><text class="k" x="854.5" y="321.5">a</text>
<rect class="bx" x="812" y="323" width="45" height="23"/><text class="t" x="814" y="328.5">MAP<tspan x="814" dy="5.3">adaptations</tspan><tspan x="814" dy="5.3">(GDB)</tspan></text><text class="k" x="854.5" y="344.5">c</text>
<rect class="bx" x="857" y="323" width="45" height="23"/><text class="t" x="859" y="328.5">MAP adaptations<tspan x="859" dy="5.3">(1/APT)</tspan></text><text class="k" x="899.5" y="344.5">e</text>
<use href="#al2" x="903" y="331"/><text class="d" x="914" y="342">00-09-04</text>
</g>
<g id="E03">
<rect class="lbx" x="858" y="219" width="32" height="9"/><text class="id" x="861" y="227">E03</text>
<rect class="bx" x="810" y="218" width="50" height="22"/><text class="t" x="812" y="223.5">TTC SAAL<tspan x="812" dy="5.3">(ALICE)</tspan></text><text class="k" x="857.5" y="238.5">a</text>
<rect class="bx" x="810" y="240" width="50" height="17"/><text class="t" x="812" y="245.5">TTC MTP3b<tspan x="812" dy="5.3">(CAPC)</tspan></text><text class="k" x="857.5" y="255.5">b</text>
<rect class="bx" x="810" y="257" width="50" height="17"/><text class="t" x="812" y="262.5">TTC SCCP<tspan x="812" dy="5.3">(CAPC)</tspan></text><text class="k" x="857.5" y="272.5">c</text>
<use href="#al" x="863" y="260"/><text class="d" x="874" y="268">00-08-07</text>
</g>
<g id="E01">
<rect class="bx" x="797" y="173" width="49" height="22"/><text class="t" x="799" y="178.5">Japanese HW<tspan x="799" dy="5.3">(CAPC)</tspan></text><text class="k" x="843.5" y="193.5">a</text>
<rect class="lbx" x="828" y="197" width="20" height="9"/><text class="id" x="830" y="205">E01</text>
</g>
<g id="G01">
<text class="gid" x="993" y="293">G01</text>
<rect class="bx" x="1013" y="285" width="52" height="23"/><text class="t" x="1015" y="290.5">APG40/33,<tspan x="1015" dy="5.3">APM,  NTA</tspan><tspan x="1015" dy="5.3">(UAB, SIO)</tspan></text><text class="k" x="1062.5" y="306.5">b</text>
<use href="#al" x="1066" y="292"/><text class="d" x="1077" y="300">00-06-22</text>
</g>
<g id="G09">
<text class="gid" x="948" y="326">G09</text>
<rect class="bx" x="948" y="327" width="52" height="22"/><text class="t" x="950" y="332.5">STS counters on<tspan x="950" dy="5.3">APG40</tspan><tspan x="950" dy="5.3">(CAPC)</tspan></text><text class="k" x="997.5" y="347.5">a</text>
<rect class="bx" x="948" y="349" width="52" height="23"/><text class="t" x="950" y="354.5">STS counters on<tspan x="950" dy="5.3">APG40, CN-I</tspan><tspan x="950" dy="5.3">(CAPC)</tspan></text><text class="k" x="997.5" y="370.5">b</text>
<use href="#al" x="1002" y="334"/><text class="d" x="1013" y="342">00-11-27</text>
<use href="#al" x="1002" y="356"/><text class="d" x="1013" y="364">01-01-15</text>
</g>
<g id="E02">
<rect class="lbx" x="939" y="376" width="26" height="9"/><text class="id" x="942" y="384">E02</text>
<rect class="bx" x="940" y="385" width="51" height="33"/><text class="t" x="942" y="390.5">CELLO ATM switch<tspan x="942" dy="5.3">for Japanese  STM1</tspan><tspan x="942" dy="5.3">Cello 2.6</tspan><tspan x="942" dy="5.3">(C-MGW)</tspan></text><text class="k" x="988.5" y="416.5">a</text>
<use href="#al" x="994" y="392"/><text class="d" x="1005" y="400">01-02-15</text>
<use href="#ar" x="994" y="410"/><text class="d" x="996" y="418">00-08-31</text>
</g>
<g id="G14">
<text class="gid" x="1069" y="404">G14</text>
<rect class="bx" x="1032" y="405" width="52" height="19"/><text class="t" x="1034" y="410.5">APG40<tspan x="1034" dy="5.3">APIO (DS3)</tspan></text><text class="k" x="1081.5" y="422.5">a</text>
</g>
<g id="G10">
<text class="gid" x="1067" y="450">G10</text>
<rect class="bx" x="1032" y="452" width="52" height="18"/><text class="t" x="1034" y="457.5">APG40<tspan x="1034" dy="5.3">APM, Pre-PRA</tspan></text><text class="k" x="1081.5" y="468.5">a</text>
<use href="#ar2" x="994" y="452"/><text class="d" x="996" y="463.5">00-06-01</text>
</g>
<g id="E02b">
<rect class="lbx" x="939" y="459" width="22" height="10"/><text class="id" x="941" y="467">E02</text>
<rect class="bx" x="938" y="470" width="50" height="30"/><text class="t" x="940" y="475.5">CELLO ATM switch<tspan x="940" dy="5.3">for Japanese  STM1</tspan><tspan x="940" dy="5.3">Cello 2.6.1</tspan><tspan x="940" dy="5.3">(C-MGW)</tspan></text><text class="k" x="985.5" y="498.5">b</text>
<use href="#al" x="990" y="477"/><text class="d" x="1001" y="485">01-04-15</text>
</g>
<g id="G11">
<text class="gid" x="1069" y="492">G11</text>
<rect class="bx" x="1033" y="493" width="52" height="35"/><text class="t" x="1035" y="498.5">APG40 PRA,<tspan x="1035" dy="5.3">APM and APIO,</tspan><tspan x="1035" dy="5.3">Back-up/restore</tspan><tspan x="1035" dy="5.3">(UAB, INGO1)</tspan></text><text class="k" x="1082.5" y="526.5">a</text>
<use href="#ar2" x="993" y="503"/><text class="d" x="995" y="511">00-09-04<tspan x="995" dy="6.5">00-11-15</tspan></text>
</g>
<g id="G12">
<text class="gid" x="933" y="535">G12</text>
<rect class="bx" x="933" y="536" width="52" height="23"/><text class="t" x="935" y="541.5">STS counters on<tspan x="935" dy="5.3">IOG20</tspan><tspan x="935" dy="5.3">(CAPC)</tspan></text><text class="k" x="982.5" y="557.5">a</text>
<use href="#al" x="986" y="541"/><text class="d" x="997" y="549">00-12-11</text>
</g>
<g id="E06b">
<text class="id" x="900" y="723">E06</text>
<rect class="bx" x="863" y="724" width="55" height="22"/><text class="t" x="865" y="729.5">IOBS, Flex, AoC<tspan x="865" dy="5.3">adaptations</tspan><tspan x="865" dy="5.3">(1/APT)</tspan></text><text class="k" x="915.5" y="744.5">a</text>
<use href="#al" x="920" y="727"/><text class="d" x="931" y="735">01-01-20</text>
</g>

<g id="H08">
<text class="id" x="983" y="69">H08</text>
<rect class="bx" x="954" y="70" width="49" height="22"/><text class="t" x="956" y="75.5">MAA: MML, ROS,<tspan x="956" dy="5.3">File Transfer</tspan><tspan x="956" dy="5.3">(CNOS, UAB)</tspan></text><text class="k" x="1000.5" y="90.5">a</text>
<use href="#al" x="1006" y="76"/><text class="d" x="1017" y="84">00-10-16</text>
</g>
<g id="H01">
<text class="id" x="925" y="86">H01</text>
<rect class="bx" x="875" y="87" width="66" height="21"/><text class="t" x="877" y="92.5">CNOS Core  (OP, Start/<tspan x="877" dy="5.3">Restart, GUI, CLI)</tspan><tspan x="877" dy="5.3">(CNOS)</tspan></text><text class="k" x="938.5" y="106.5">a</text>
<use href="#ar" x="836" y="94"/><text class="d" x="838" y="102">00-04-30</text>
</g>
<g id="H06">
<text class="id" x="1060" y="102">H06</text>
<rect class="bx" x="1029" y="103" width="50" height="23"/><text class="t" x="1031" y="108.5">MAA: many NE's<tspan x="1031" dy="5.3">CP integration</tspan><tspan x="1031" dy="5.3">(CNOS, UAB)</tspan></text><text class="k" x="1076.5" y="124.5">b</text>
<use href="#ar" x="990" y="108"/><text class="d" x="992" y="116">00-12-15</text>
</g>
<g id="H02">
<text class="id" x="877" y="126">H02</text>
<rect class="bx" x="875" y="128" width="66" height="27"/><text class="t" x="877" y="133.5">BASIC App. Support<tspan x="877" dy="5.3">towards AXE</tspan><tspan x="877" dy="5.3">(PI, Sec., Tigris Em)</tspan><tspan x="877" dy="5.3">(CNOS)</tspan></text><text class="k" x="938.5" y="153.5">a</text>
<use href="#ar" x="837" y="137"/><text class="d" x="839" y="145">00-07-30</text>
</g>
<g id="H03">
<text class="id" x="991" y="126">H03</text>
<rect class="bx" x="946" y="128" width="64" height="29"/><text class="t" x="948" y="133.5">BASIC App. support  for<tspan x="948" dy="5.3">other nodes.</tspan><tspan x="948" dy="5.3">Initial FM / PM</tspan><tspan x="948" dy="5.3">(CNOS)</tspan></text><text class="k" x="1007.5" y="155.5">a</text>
<use href="#al" x="1011" y="138"/><text class="d" x="1022" y="146">00-11-24</text>
<use href="#ar" x="1011" y="152"/><text class="d" x="1013" y="160">01-01-15</text>
</g>
<g id="H05">
<text class="id" x="1081" y="145">H05</text>
<rect class="bx" x="1050" y="147" width="48" height="23"/><text class="t" x="1052" y="152.5">MAA: Alarm IRP<tspan x="1052" dy="5.3">(CNOS, UAB)</tspan></text><text class="k" x="1095.5" y="168.5">a</text>
</g>
<g id="H04">
<text class="id" x="956" y="177">H04</text>
<rect class="bx" x="956" y="178" width="62" height="22"/><text class="t" x="958" y="183.5">PM / AST<tspan x="958" dy="5.3">Applications</tspan><tspan x="958" dy="5.3">(CNOS)</tspan></text><text class="k" x="1015.5" y="198.5">a</text>
<use href="#ar" x="918" y="184"/><text class="d" x="920" y="192">01-02-15</text>
</g>
<g id="H07">
<text class="id" x="1030" y="205">H07</text>
<rect class="bx" x="984" y="207" width="62" height="21"/><text class="t" x="986" y="212.5">FM<tspan x="986" dy="5.3">(CNOS)</tspan></text><text class="k" x="1043.5" y="226.5">a</text>
<use href="#ar" x="946" y="210"/><text class="d" x="948" y="218">01-03-01</text>
</g>

<g id="legend">
<use href="#ar2" x="896" y="588"/><text class="d" x="898" y="599.5">planned</text>
<text x="945" y="592" font-size="5.6" fill="#333">Ready for LSV. This is the date when all possible<tspan x="945" dy="6.8">Function test cases within the available hardware have</tspan><tspan x="945" dy="6.8">been passed. This is also the target date for all</tspan><tspan x="945" dy="6.8">previous dependent WPs to reach the same status.</tspan></text>
<rect class="db" x="878" y="617" width="60" height="28"/>
<text x="882" y="628" font-size="8" font-weight="bold" fill="#222">Planned<tspan x="882" dy="10">[estimated]</tspan></text>
<text x="945" y="627" font-size="5.6" fill="#333">Date all function test activities are<tspan x="945" dy="6.8">finished for all WPs within a sphere.</tspan></text>
</g>
<g id="title">
<text transform="translate(838,679) scale(0.89,1)" font-size="28" font-weight="bold" fill="#111">UMTS CN 1.0,</text>
<text transform="translate(838,710) scale(0.87,1)" font-size="28" font-weight="bold" fill="#111">FUNCTION ANATOMY</text>
</g>
</svg>
